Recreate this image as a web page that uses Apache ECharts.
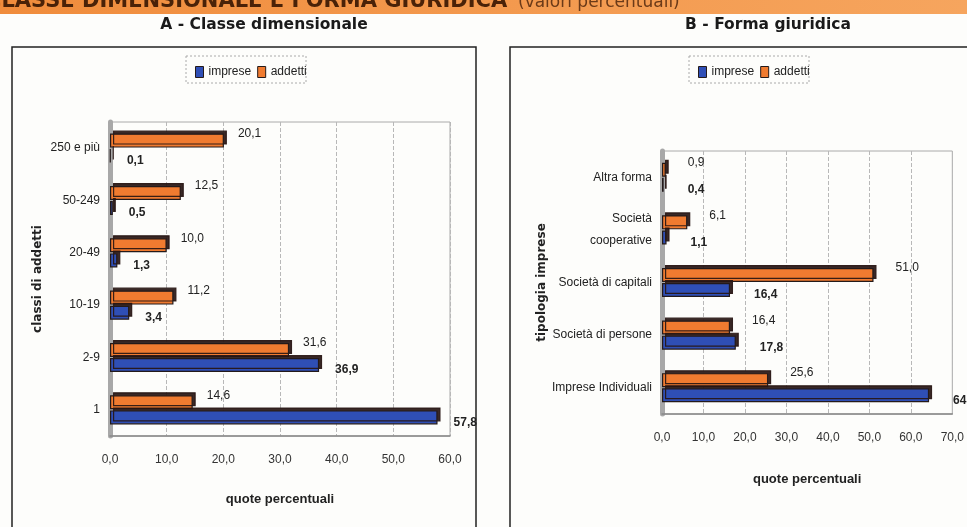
<!DOCTYPE html>
<html>
<head>
<meta charset="utf-8">
<script src="https://cdn.jsdelivr.net/npm/echarts@6/dist/echarts.min.js"></script>
<style>
html,body{margin:0;padding:0;background:#fdfdfb;}
#c{width:967px;height:527px;}
</style>
</head>
<body>
<div id="c"></div>
<script>
// ---- Data ----
const catsA = ['250 e più', '50-249', '20-49', '10-19', '2-9', '1'];
const impreseA = [0.1, 0.5, 1.3, 3.4, 36.9, 57.8];
const addettiA = [20.1, 12.5, 10.0, 11.2, 31.6, 14.6];

const catsB = ['Altra forma', 'Società\ncooperative', 'Società di capitali', 'Società di persone', 'Imprese Individuali'];
const impreseB = [0.4, 1.1, 16.4, 17.8, 64.4];
const addettiB = [0.9, 6.1, 51.0, 16.4, 25.6];

const NARROW = "'Liberation Sans Narrow','Arial Narrow','Liberation Sans',sans-serif";
const fmt = v => v.toFixed(1).replace('.', ',');
const ORANGE = '#f07b30';
const BLUE = '#2f4fb6';
const DARK = '#241a1a';

function barSeries(name, data, color, xi, yi, bold, off) {
  return {
    name: name, type: 'bar', data: data, xAxisIndex: xi, yAxisIndex: yi,
    barWidth: 14, barGap: '8%',
    itemStyle: { color: color, borderColor: DARK, borderWidth: 1.2,
      shadowColor: 'rgba(40,22,20,0.92)', shadowBlur: 0, shadowOffsetX: 3, shadowOffsetY: -3 },
    label: { show: true, position: 'right', distance: 8, offset: off,
      formatter: p => fmt(p.value), fontFamily: NARROW, fontSize: 12,
      color: '#222', fontWeight: bold ? 'bold' : 'normal' },
    emphasis: { disabled: true }
  };
}

function xAxisDef(gi, max, gap) {
  return {
    type: 'value', gridIndex: gi, min: 0, max: max, interval: 10,
    name: 'quote percentuali', nameLocation: 'middle', nameGap: gap,
    nameTextStyle: { fontFamily: NARROW, fontSize: 13, fontWeight: 'bold', color: '#222' },
    axisLabel: { formatter: v => fmt(v), fontFamily: NARROW, fontSize: 12, color: '#333', margin: 18 },
    axisLine: { show: true, lineStyle: { color: '#888', width: 1.5 } },
    axisTick: { show: false },
    splitLine: { show: true, lineStyle: { color: '#b8b8b8', type: 'dashed', width: 1 } }
  };
}

function yAxisDef(gi, cats, name, gap) {
  return {
    type: 'category', gridIndex: gi, data: cats, inverse: true,
    name: name, nameLocation: 'middle', nameGap: gap, nameRotate: 90,
    nameTextStyle: { fontFamily: "'DejaVu Sans',sans-serif", fontSize: 12, fontWeight: 'bold', color: '#222' },
    axisLabel: { fontFamily: NARROW, fontSize: 12, color: '#222', margin: 10, lineHeight: 22 },
    axisLine: { show: true, lineStyle: { color: '#a8a8a8', width: 5 } },
    axisTick: { show: false },
    splitLine: { show: false }
  };
}

const chart = echarts.init(document.getElementById('c'));
chart.setOption({
  backgroundColor: '#fdfdfb',
  animation: false,
  graphic: [
    { type: 'rect', shape: { x: 0, y: 0, width: 967, height: 14 }, z: 0,
      style: { fill: new echarts.graphic.LinearGradient(0, 0, 1, 0, [
        { offset: 0, color: '#f08c3c' }, { offset: 1, color: '#f6a55e' }]) } },
    { type: 'text', x: -14, y: 2, z: 1,
      style: { text: 'CLASSE DIMENSIONALE E FORMA GIURIDICA', fontFamily: "'DejaVu Sans',sans-serif",
        fontSize: 21, fontWeight: 'bold', fill: '#4a2208', verticalAlign: 'middle' } },
    { type: 'text', x: 518, y: 3, z: 1,
      style: { text: '(valori percentuali)', fontFamily: "'DejaVu Sans',sans-serif",
        fontSize: 17, fill: '#6b3a18', verticalAlign: 'middle' } },
    { type: 'text', x: 264, y: 25, z: 1,
      style: { text: 'A - Classe dimensionale', fontFamily: "'DejaVu Sans',sans-serif",
        fontSize: 15.5, fontWeight: 'bold', fill: '#1a1a1a', align: 'center', verticalAlign: 'middle' } },
    { type: 'text', x: 768, y: 25, z: 1,
      style: { text: 'B - Forma giuridica', fontFamily: "'DejaVu Sans',sans-serif",
        fontSize: 15.5, fontWeight: 'bold', fill: '#1a1a1a', align: 'center', verticalAlign: 'middle' } },
    { type: 'rect', shape: { x: 12, y: 47, width: 464, height: 500 }, z: 0,
      style: { fill: 'none', stroke: '#222', lineWidth: 1.5 } },
    { type: 'rect', shape: { x: 510, y: 47, width: 480, height: 500 }, z: 0,
      style: { fill: 'none', stroke: '#222', lineWidth: 1.5 } },
    { type: 'rect', shape: { x: 186, y: 56, width: 120, height: 27 }, z: 0,
      style: { fill: 'none', stroke: '#aaa', lineWidth: 1, lineDash: [2, 2] } },
    { type: 'rect', shape: { x: 689, y: 56, width: 120, height: 27 }, z: 0,
      style: { fill: 'none', stroke: '#aaa', lineWidth: 1, lineDash: [2, 2] } }
  ],
  legend: [
    { data: ['imprese', 'addetti'], left: 190, top: 61, itemWidth: 8, itemHeight: 11, itemGap: 6,
      icon: 'rect', textStyle: { fontFamily: NARROW, fontSize: 12, color: '#222' },
      itemStyle: { borderColor: DARK, borderWidth: 1, shadowBlur: 0, shadowOffsetX: 0, shadowOffsetY: 0 } },
    { data: ['imprese', 'addetti'], left: 693, top: 61, itemWidth: 8, itemHeight: 11, itemGap: 6,
      icon: 'rect', textStyle: { fontFamily: NARROW, fontSize: 12, color: '#222' },
      itemStyle: { borderColor: DARK, borderWidth: 1, shadowBlur: 0, shadowOffsetX: 0, shadowOffsetY: 0 } }
  ],
  grid: [
    { left: 110, width: 340, top: 122, height: 314, show: true, borderColor: '#aaa', borderWidth: 1, backgroundColor: 'transparent' },
    { left: 662, width: 293, top: 151, height: 263, show: true, borderColor: '#aaa', borderWidth: 1, backgroundColor: 'transparent' }
  ],
  xAxis: [ xAxisDef(0, 60, 57), xAxisDef(1, 70, 59) ],
  yAxis: [ yAxisDef(0, catsA, 'classi di addetti', 66), yAxisDef(1, catsB, 'tipologia imprese', 114) ],
  series: [
    barSeries('addetti', addettiA, ORANGE, 0, 0, false, [6, -7]),
    barSeries('imprese', impreseA, BLUE, 0, 0, true, [8, 5]),
    barSeries('addetti', addettiB, ORANGE, 1, 1, false, [14, -7]),
    barSeries('imprese', impreseB, BLUE, 1, 1, true, [16, 5])
  ]
});
</script>
</body>
</html>
